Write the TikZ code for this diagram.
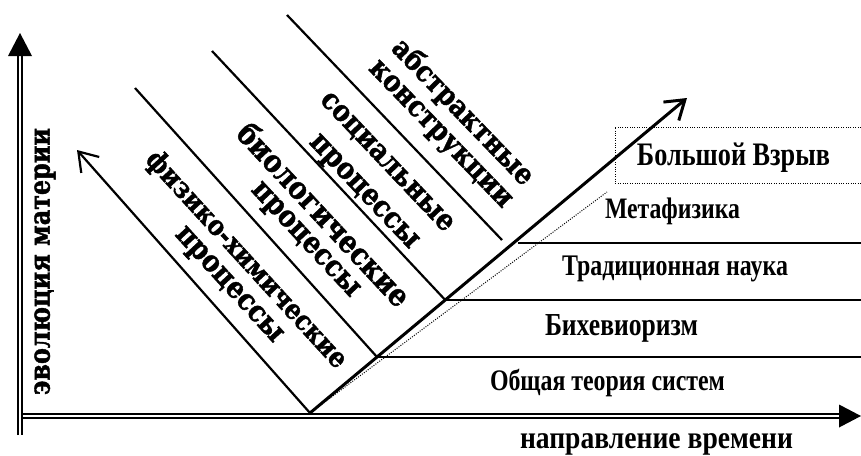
\documentclass[tikz,border=0pt]{standalone}
\usepackage{fontspec}
\setmainfont{Liberation Serif}
\newfontfamily\heavyfont{DejaVu Serif}[BoldFeatures={FakeBold=1.5}]
\usetikzlibrary{arrows.meta,calc}
\newcommand\tallw[3]{\scalebox{1}[#1]{\resizebox{#2pt}{!}{#3}}}
\begin{document}
\begin{tikzpicture}[x=1pt,y=-1pt,
  axisline/.style={draw=black, double=white, double distance=2.6pt, line width=1.8pt},
  diagline/.style={line width=2.2pt},
  mainline/.style={line width=3pt},
  hline/.style={line width=1.8pt},
  thickh/.style={line width=2.8pt},
  dotline/.style={line width=1pt, dash pattern=on 1pt off 1.4pt},
  barb/.style={-{Straight Barb[length=18pt,width=24pt]}},
  lab/.style={inner sep=0pt, anchor=base, font=\bfseries},
  dlab/.style={inner sep=0pt, font=\heavyfont\bfseries}]
\useasboundingbox (0,0) rectangle (861,455);

% axes
\coordinate (O) at (20,416);
\coordinate (YT) at (20,54);
\coordinate (YB) at (20,435);
\coordinate (XT) at (841,416);
\draw[axisline] (O) -- (XT);
\draw[axisline] (YB) -- (YT);
\fill (20,33) -- (8,56) -- (32,56) -- cycle;
\fill (861,416) -- (839,404.5) -- (839,427.5) -- cycle;

% main vertex and diagonals
\coordinate (V0) at (310,413);
\coordinate (T) at (687,98);
\coordinate (L) at (77,150);
\coordinate (V1) at ($(V0)!{56/315}!(T)$);
\coordinate (V2) at ($(V0)!{113/315}!(T)$);
\coordinate (P2) at (135,88);
\coordinate (P3) at (212,51);
\coordinate (P4) at (287,15);
\coordinate (E4) at (502,240);
\coordinate (H3) at (518,243);
\coordinate (R3) at (861,243);
\coordinate (R2) at (861,300);
\coordinate (R1) at (861,357);
\coordinate (D) at (607,192);

\draw[dotline] (V0) -- (D);
\draw[dotline] (861,127) -- (615,127) -- (615,183) -- (861,183);

\draw[thickh] (H3) -- (R3);
\draw[hline] (V2) -- (R2);
\draw[hline] (V1) -- (R1);

\draw[diagline] (P2) -- (V1);
\draw[diagline] (P3) -- (V2);
\draw[diagline] (P4) -- (E4);
\draw[diagline, barb] (V0) -- (L);
\draw[mainline, barb] (V0) -- (T);

% diagonal labels
\node[dlab, rotate=-47.5] (f1) at (246,260) {\tallw{1.15}{284}{физико-химические}};
\node[dlab, rotate=-47.5] (f2) at (227.5,286) {\tallw{1.15}{147}{процессы}};
\node[dlab, rotate=-47] (b1) at (324.5,214) {\tallw{1.15}{238}{биологические}};
\node[dlab, rotate=-47] (b2) at (304,241) {\tallw{1.15}{147}{процессы}};
\node[dlab, rotate=-46.5] (s1) at (386,163) {\tallw{1.15}{182}{социальные}};
\node[dlab, rotate=-46.5] (s2) at (362.5,193) {\tallw{1.15}{147}{процессы}};
\node[dlab, rotate=-46] (a1) at (462.5,112.5) {\tallw{1.15}{191}{абстрактные}};
\node[dlab, rotate=-46] (a2) at (438.5,136) {\tallw{1.15}{194}{конструкции}};

\node[dlab, rotate=90] (ev) at (45,261.5) {\tallw{1.2}{267}{эволюция материи}};

% right labels
\node[lab] (bv) at (733.5,165) {\tallw{1.25}{193}{Большой Взрыв}};
\node[lab] (mf) at (672.5,218) {\tallw{1.25}{135}{Метафизика}};
\node[lab] (tn) at (675,275) {\tallw{1.25}{226}{Традиционная наука}};
\node[lab] (bh) at (621.5,335) {\tallw{1.25}{153}{Бихевиоризм}};
\node[lab] (ot) at (607.5,390) {\tallw{1.25}{235}{Общая теория систем}};
\node[lab] (nv) at (656.5,448) {\tallw{1.15}{273}{направление времени}};
\end{tikzpicture}
\end{document}
